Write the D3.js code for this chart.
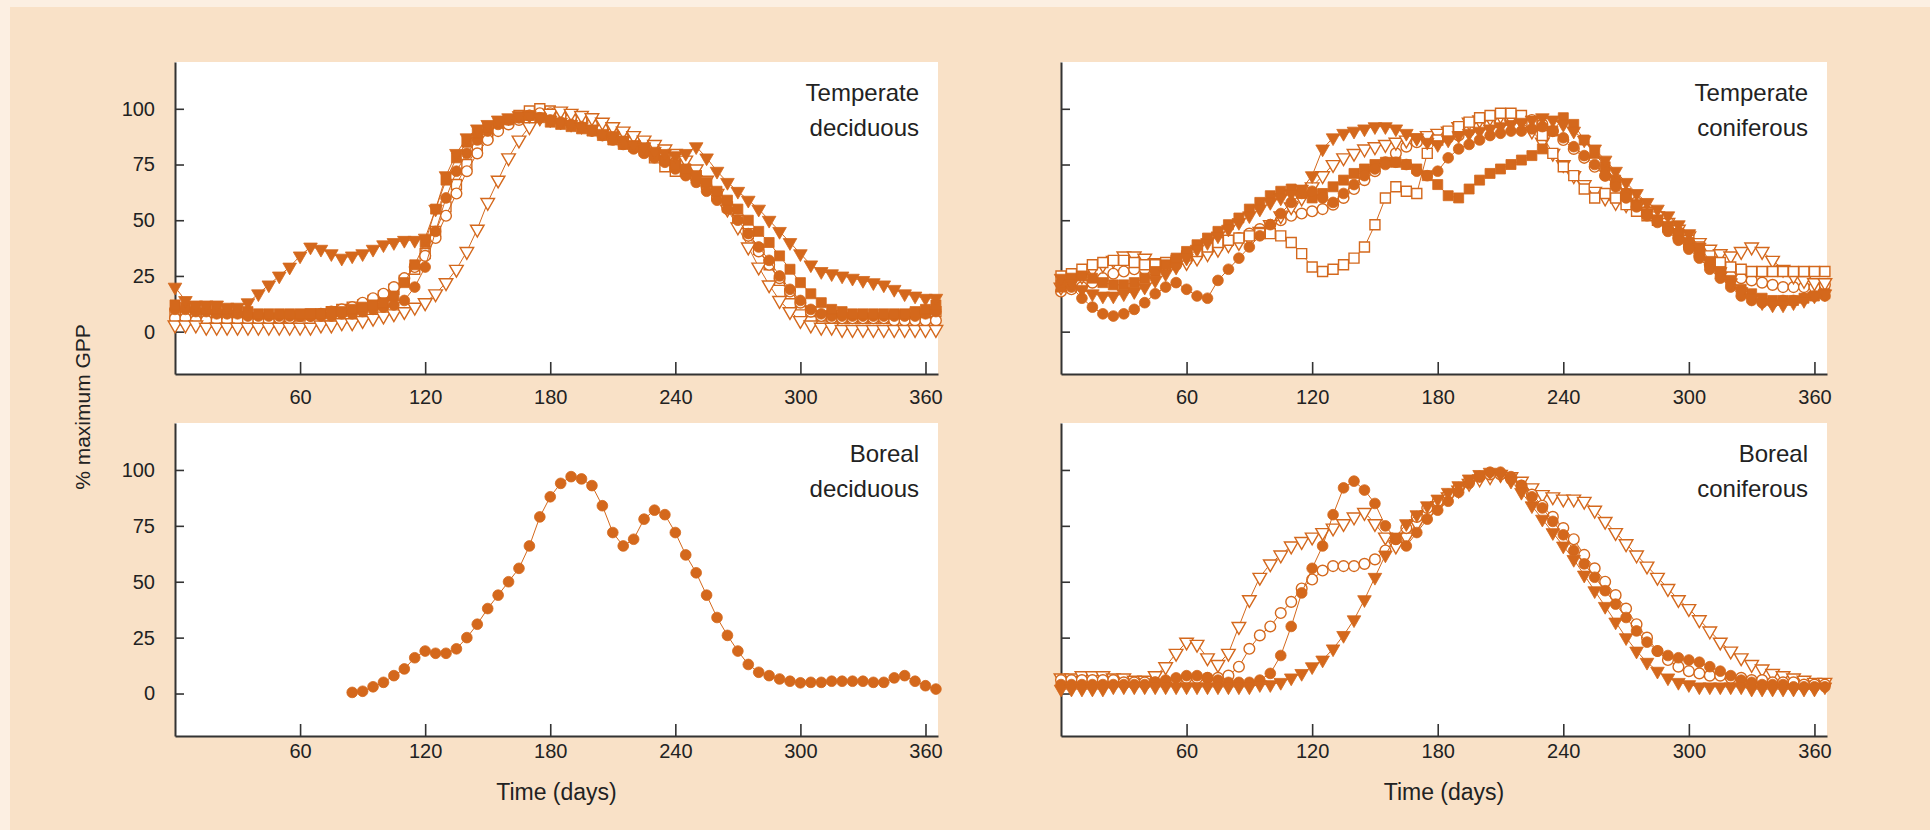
<!DOCTYPE html>
<html>
<head>
<meta charset="utf-8">
<script src="https://cdn.jsdelivr.net/npm/d3@7"></script>
<style>
  html, body { margin: 0; padding: 0; background: #f9e1c7; }
  svg { display: block; }
  text { font-family: "Liberation Sans", Arial, sans-serif; fill: #222; }
</style>
</head>
<body>
<svg id="chart" width="1930" height="830"></svg>
<script>
'use strict';

// x positions (day of year) of every sample, 5 day step
var days = [0,5,10,15,20,25,30,35,40,45,50,55,60,65,70,75,80,85,90,95,
    100,105,110,115,120,125,130,135,140,145,150,155,160,165,170,175,180,185,190,195,
    200,205,210,215,220,225,230,235,240,245,250,255,260,265,270,275,280,285,290,295,
    300,305,310,315,320,325,330,335,340,345,350,355,360,365];
var bdDays = [85,90,95,100,105,110,115,120,125,130,135,140,145,150,155,160,165,170,175,180,
    185,190,195,200,205,210,215,220,225,230,235,240,245,250,255,260,265,270,275,280,
    285,290,295,300,305,310,315,320,325,330,335,340,345,350,355,360,365];

var xTicks = [60, 120, 180, 240, 300, 360];
var yTicks = [0, 25, 50, 75, 100];

// ---- Temperate deciduous ----
var tdTriFill = [20,14,12,12,12,11,11,13,17,21, 25,29,34,38,37,35,33,34,35,37,
    39,40,41,41,42,55,70,80,87,91, 93,95,96,97,97,96,95,94,93,92,
    91,89,88,86,84,83,81,80,79,80, 83,78,72,67,63,59,55,50,45,40,
    35,30,27,26,25,24,23,22,21,19, 17,16,15,15];
var tdSqFill = [12,11,11,10,10,10,9,9,8,8, 8,8,8,8,8,9,9,10,11,12,
    13,16,22,30,40,55,68,78,85,89, 92,94,95,96,97,96,94,93,92,91,
    90,88,86,84,83,81,79,77,75,73, 70,67,63,59,55,50,45,40,34,28,
    22,17,13,10,9,8,8,8,8,8, 8,9,10,12];
var tdCircFill = [10,10,9,9,8,8,8,7,7,7, 7,7,7,7,7,7,8,8,9,10,
    11,12,14,20,29,45,60,72,80,86, 90,93,95,96,97,96,95,94,93,92,
    90,88,86,84,82,80,78,76,73,70, 67,63,59,55,50,44,38,32,25,19,
    14,10,8,7,7,7,7,7,7,7, 7,7,8,9];
var tdCircOpen = [6,6,5,5,5,5,5,5,5,5, 6,6,7,7,8,9,10,11,13,15,
    17,20,24,29,34,42,52,62,72,80, 86,90,93,95,97,98,98,97,96,95,
    93,91,89,87,86,84,82,79,76,73, 69,65,60,55,49,43,36,30,24,18,
    13,9,7,6,6,6,6,6,6,5, 5,5,5,5];
var tdTriOpen = [3,3,3,2,2,2,2,2,2,2, 2,2,2,2,3,3,4,4,5,6,
    7,8,9,11,13,17,22,28,36,46, 58,68,78,86,92,96,98,99,98,97,
    96,94,92,90,88,86,84,82,80,77, 73,68,62,55,47,38,29,21,14,9,
    5,3,2,2,1,1,1,1,1,1, 1,1,1,1];
var tdSqOpen = [8,8,7,7,7,7,6,6,6,6, 6,7,7,8,8,9,10,11,12,14,
    16,19,23,28,35,45,56,66,75,82, 88,92,95,97,99,100,99,98,97,96,
    94,92,90,88,85,82,78,74,72,72, 70,66,61,56,50,44,37,30,23,17,
    12,9,7,7,6,6,6,6,6,7, 7,8,8,9];

// ---- Temperate coniferous ----
var tcTriFill = [24,22,19,17,16,16,17,18,20,23, 26,29,33,37,40,43,46,49,52,55,
    58,60,62,64,70,82,87,89,90,91, 92,92,91,89,87,85,84,86,88,89,
    90,91,92,93,94,95,96,95,93,90, 86,82,77,72,67,62,58,55,52,48,
    44,38,32,27,22,18,15,13,12,12, 13,14,16,17];
var tcCircFill = [22,20,15,11,8,7,8,10,13,17, 20,22,19,16,15,23,28,33,38,43,
    48,53,58,62,63,60,58,62,66,70, 73,75,76,75,72,70,72,78,82,84,
    86,88,89,90,90,91,92,90,87,83, 79,75,70,65,60,56,52,49,45,41,
    37,33,28,24,20,16,14,13,13,14, 14,15,16,16];
var tcSqFill = [20,24,25,24,22,21,21,22,24,27, 30,33,36,39,42,45,48,51,55,58,
    61,63,64,62,60,62,65,68,71,73, 75,76,76,75,73,70,66,61,60,64,
    68,71,73,75,77,79,82,90,96,93, 86,80,74,68,62,57,53,50,47,44,
    40,36,31,27,23,19,17,15,14,14, 14,15,16,17];
var tcSqOpen = [25,26,28,30,31,32,32,31,30,30, 31,32,34,36,38,40,41,42,43,44,
    44,43,40,35,29,27,28,30,33,38, 48,60,65,63,62,80,86,90,92,94,
    96,97,98,98,97,94,88,80,74,70, 64,60,62,60,57,54,52,50,47,44,
    41,38,34,31,29,28,27,27,27,27, 27,27,27,27];
var tcTriOpen = [20,22,25,28,30,32,34,34,33,31, 30,30,31,33,35,37,39,40,42,45,
    48,52,56,60,65,70,75,78,80,82, 83,84,85,86,87,88,89,90,92,94,
    95,96,97,96,94,90,85,80,75,70, 66,63,60,58,57,56,54,52,49,46,
    43,40,37,35,34,36,38,36,32,28, 25,23,22,22];
var tcCircOpen = [18,19,20,22,24,26,27,28,28,28, 29,30,32,34,36,38,40,42,44,46,
    48,50,52,53,54,55,57,60,64,68, 72,76,80,83,85,86,86,87,88,90,
    92,93,94,95,96,95,93,90,86,82, 78,74,70,66,62,58,54,50,46,42,
    38,34,30,27,25,24,23,22,21,20, 20,20,20,21];

// ---- Boreal deciduous ----
var bdCircFill = [0.5,1,3,5,8,11,16,19,18,18, 20,25,31,38,44,50,56,66,79,88,
    94,97,96,93,84,72,66,69,78,82, 80,72,62,54,44,34,26,19,13,9.5,
    8,6.5,5.5,4.8,5,5,5.5,5.5,5.5,5.5, 5,5,7,8,5.5,3.5,2];

// ---- Boreal coniferous ----
var bcTriOpen = [7,7,8,8,8,7,7,6,6,8, 12,18,23,22,16,13,18,30,42,52,
    58,62,66,68,70,72,74,76,79,81, 76,70,66,70,76,80,84,88,91,94,
    96,97,98,97,95,92,89,88,87,87, 86,82,77,72,67,62,57,52,47,42,
    38,33,28,23,19,16,13,11,9,8, 7,6,5,5];
var bcCircFill = [4,4,4,4,4,4,4,4,4,5, 6,7,8,8,7,6,5,5,5,6,
    9,17,30,45,56,66,80,92,95,91, 85,75,69,66,72,78,82,86,90,94,
    97,99,99,97,93,88,83,77,71,64, 58,52,46,40,34,28,23,19,17,16,
    15,14,12,10,8,6,5,4,4,4, 3,3,3,3];
var bcCircOpen = [6,6,6,6,6,6,5,5,5,5, 5,6,7,7,7,7,8,12,20,26,
    30,36,41,47,51,55,57,57,57,58, 60,64,69,74,79,83,86,89,92,95,
    97,98,98,96,93,89,84,79,74,69, 62,56,50,44,38,31,25,19,15,12,
    10,9,8,8,7,7,6,6,5,5, 5,4,4,4];
var bcTriFill = [2,2,2,2,2,3,3,3,3,3, 3,3,3,3,3,3,3,3,3,4,
    4,5,7,9,12,15,20,26,33,42, 52,62,70,76,80,84,87,90,93,96,
    98,99,98,95,90,84,78,72,66,60, 53,46,39,32,25,19,14,10,7,5,
    4,3,3,3,3,3,2,2,2,2, 2,2,2,3];

var ORANGE = '#d4681c';
var FONT = '"Liberation Sans", Arial, sans-serif';

// panels: layout + which series go in them
var panels = [
    {title: ['Temperate', 'deciduous'], x: [175, 938], y: [374, 62], yLabels: true, xTitle: false,
     series: [
        {shape: 'square', filled: false, days: days, values: tdSqOpen},
        {shape: 'circle', filled: false, days: days, values: tdCircOpen},
        {shape: 'tri', filled: false, days: days, values: tdTriOpen},
        {shape: 'circle', filled: true, days: days, values: tdCircFill},
        {shape: 'square', filled: true, days: days, values: tdSqFill},
        {shape: 'tri', filled: true, days: days, values: tdTriFill}
     ]},
    {title: ['Temperate', 'coniferous'], x: [1061, 1827], y: [374, 62], yLabels: false, xTitle: false,
     series: [
        {shape: 'circle', filled: false, days: days, values: tcCircOpen},
        {shape: 'tri', filled: false, days: days, values: tcTriOpen},
        {shape: 'square', filled: false, days: days, values: tcSqOpen},
        {shape: 'square', filled: true, days: days, values: tcSqFill},
        {shape: 'circle', filled: true, days: days, values: tcCircFill},
        {shape: 'tri', filled: true, days: days, values: tcTriFill}
     ]},
    {title: ['Boreal', 'deciduous'], x: [175, 938], y: [736, 423], yLabels: true, xTitle: true,
     series: [
        {shape: 'circle', filled: true, days: bdDays, values: bdCircFill}
     ]},
    {title: ['Boreal', 'coniferous'], x: [1061, 1827], y: [736, 423], yLabels: false, xTitle: true,
     series: [
        {shape: 'tri', filled: false, days: days, values: bcTriOpen},
        {shape: 'circle', filled: false, days: days, values: bcCircOpen},
        {shape: 'circle', filled: true, days: days, values: bcCircFill},
        {shape: 'tri', filled: true, days: days, values: bcTriFill}
     ]}
];

var svg = d3.select('#chart');

// peach page, a lighter strip on the left and top edge
svg.append('rect').attr('width', 1930).attr('height', 830).attr('fill', '#fcefe2');
svg.append('rect').attr('x', 10).attr('y', 7).attr('width', 1920).attr('height', 823)
    .attr('fill', '#f9e1c7');

var symbolFor = {
    circle: d3.symbol().type(d3.symbolCircle).size(90),
    square: d3.symbol().type(d3.symbolSquare).size(100),
    tri: d3.symbol().type(d3.symbolTriangle).size(80)
};

panels.forEach(function(p) {
    var x = d3.scaleLinear().domain([0, 366]).range(p.x);
    var y = d3.scaleLinear().domain([-19, 121]).range(p.y);
    var g = svg.append('g');

    // white plotting area
    g.append('rect')
        .attr('x', p.x[0]).attr('y', p.y[1])
        .attr('width', p.x[1] - p.x[0]).attr('height', p.y[0] - p.y[1])
        .attr('fill', '#ffffff');

    // x axis, ticks pointing into the plot
    var xAxis = d3.axisBottom(x).tickValues(xTicks).tickSizeInner(-12).tickSizeOuter(0)
        .tickPadding(p.xTitle ? 8 : 16);
    var gx = g.append('g').attr('transform', 'translate(0,' + p.y[0] + ')').call(xAxis);
    gx.select('.domain').attr('stroke', '#333').attr('stroke-width', 2);
    gx.selectAll('.tick line').attr('stroke', '#333').attr('stroke-width', 1.6);
    gx.selectAll('.tick text').attr('font-size', 20).attr('fill', '#222').attr('font-family', FONT);

    // y axis
    var yAxis = d3.axisLeft(y).tickValues(yTicks).tickSizeInner(-9).tickSizeOuter(0).tickPadding(20);
    if (!p.yLabels) yAxis.tickFormat('');
    var gy = g.append('g').attr('transform', 'translate(' + p.x[0] + ',0)').call(yAxis);
    gy.select('.domain').attr('stroke', '#333').attr('stroke-width', 2);
    gy.selectAll('.tick line').attr('stroke', '#333').attr('stroke-width', 1.6);
    gy.selectAll('.tick text').attr('font-size', 20).attr('fill', '#222').attr('font-family', FONT);

    // series: thin line, then the markers on top
    p.series.forEach(function(s) {
        var pts = s.values.map(function(v, i) { return [s.days[i], v]; });
        var line = d3.line().x(function(d) { return x(d[0]); }).y(function(d) { return y(d[1]); });
        g.append('path').datum(pts)
            .attr('d', line)
            .attr('fill', 'none')
            .attr('stroke', ORANGE)
            .attr('stroke-width', 1);
        g.append('g').selectAll('path')
            .data(pts)
            .join('path')
            .attr('d', symbolFor[s.shape])
            .attr('transform', function(d) {
                var t = 'translate(' + x(d[0]) + ',' + y(d[1]) + ')';
                return s.shape === 'tri' ? t + ' rotate(180)' : t;
            })
            .attr('fill', s.filled ? ORANGE : '#ffffff')
            .attr('stroke', ORANGE)
            .attr('stroke-width', s.filled ? 0.8 : 1.4);
    });

    // panel title, right aligned in the top corner
    var title = g.append('text')
        .attr('text-anchor', 'end')
        .attr('font-size', 24)
        .attr('fill', '#222');
    p.title.forEach(function(t, i) {
        title.append('tspan').attr('x', p.x[1] - 19).attr('y', p.y[1] + 39 + i * 35).text(t);
    });

    if (p.xTitle) {
        g.append('text')
            .attr('x', (p.x[0] + p.x[1]) / 2).attr('y', 800)
            .attr('text-anchor', 'middle')
            .attr('font-size', 23)
            .text('Time (days)');
    }
});

// shared y label
svg.append('text')
    .attr('transform', 'translate(90,407) rotate(-90)')
    .attr('text-anchor', 'middle')
    .attr('font-size', 21)
    .text('% maximum GPP');
</script>
</body>
</html>
